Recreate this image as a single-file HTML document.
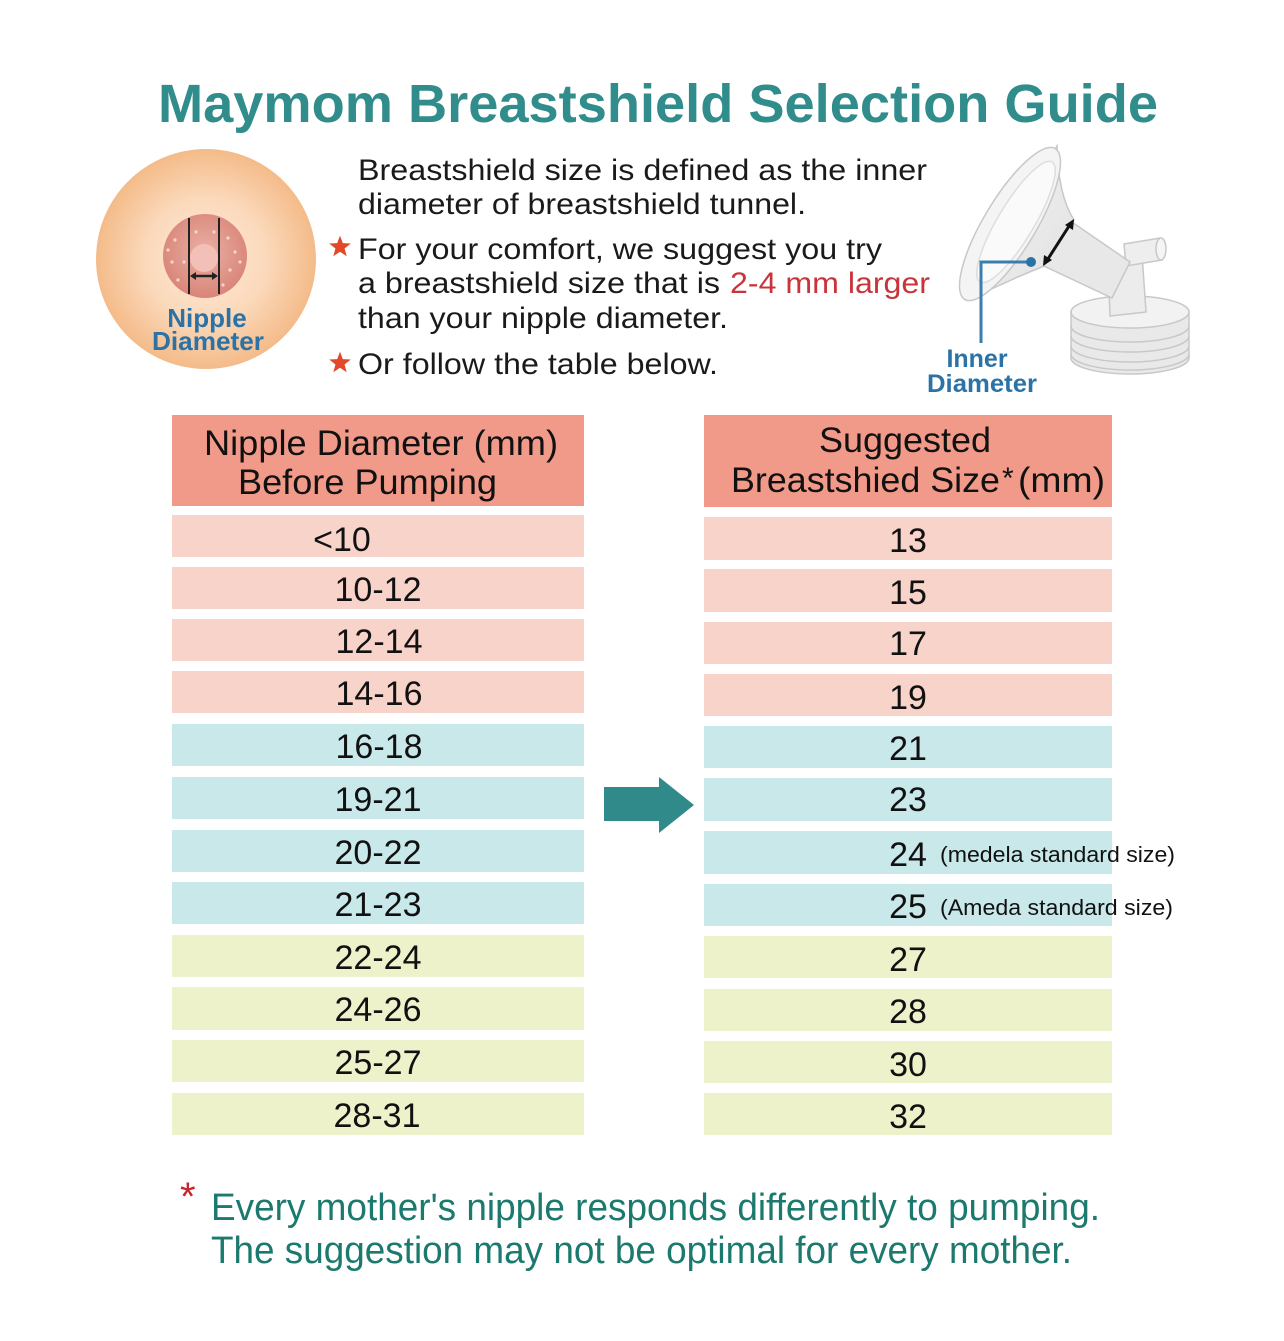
<!DOCTYPE html>
<html>
<head>
<meta charset="utf-8">
<style>
  html,body{margin:0;padding:0;background:#ffffff;}
  svg{display:block;}
  text{font-family:"Liberation Sans", Arial, sans-serif;}
</style>
</head>
<body>
<svg width="1284" height="1341" viewBox="0 0 1284 1341" xmlns="http://www.w3.org/2000/svg">
  <defs>
    <radialGradient id="peach" cx="50%" cy="50%" r="50%">
      <stop offset="0%" stop-color="#fdeadb"/>
      <stop offset="55%" stop-color="#fbd9bb"/>
      <stop offset="100%" stop-color="#f4bb89"/>
    </radialGradient>
    <radialGradient id="pink" cx="50%" cy="45%" r="55%">
      <stop offset="0%" stop-color="#eab0a5"/>
      <stop offset="100%" stop-color="#d98578"/>
    </radialGradient>
    <linearGradient id="glass" x1="0" y1="0" x2="1" y2="1">
      <stop offset="0%" stop-color="#f6f6f6"/>
      <stop offset="100%" stop-color="#e0e0e0"/>
    </linearGradient>
  </defs>

  <rect width="1284" height="1341" fill="#ffffff"/>

  <!-- Title -->
  <text x="158" y="122" font-size="54" font-weight="bold" fill="#318c8c" textLength="1000" lengthAdjust="spacingAndGlyphs">Maymom Breastshield Selection Guide</text>

  <!-- Nipple circle -->
  <circle cx="206" cy="259" r="110" fill="url(#peach)"/>
  <circle cx="205" cy="256" r="42" fill="url(#pink)"/>
  <g fill="#f6d6cf">
    <circle cx="175" cy="240" r="1.6"/><circle cx="184" cy="262" r="1.6"/><circle cx="228" cy="238" r="1.6"/>
    <circle cx="235" cy="252" r="1.6"/><circle cx="230" cy="270" r="1.6"/><circle cx="172" cy="262" r="1.6"/>
    <circle cx="196" cy="232" r="1.6"/><circle cx="214" cy="232" r="1.6"/><circle cx="240" cy="262" r="1.6"/>
    <circle cx="178" cy="280" r="1.6"/><circle cx="223" cy="285" r="1.6"/><circle cx="168" cy="250" r="1.6"/>
  </g>
  <circle cx="204" cy="258" r="14" fill="#f3c0b8"/>
  <line x1="189" y1="218" x2="189" y2="294" stroke="#222" stroke-width="2"/>
  <line x1="219" y1="218" x2="219" y2="294" stroke="#222" stroke-width="2"/>
  <line x1="193" y1="276" x2="215" y2="276" stroke="#222" stroke-width="2.5"/>
  <polygon points="190,276 196,272 196,280" fill="#222"/>
  <polygon points="218,276 212,272 212,280" fill="#222"/>
  <text x="207" y="327" font-size="26" font-weight="bold" fill="#2b72a6" text-anchor="middle">Nipple</text>
  <text x="208" y="350" font-size="26" font-weight="bold" fill="#2b72a6" text-anchor="middle" textLength="112" lengthAdjust="spacingAndGlyphs">Diameter</text>

  <!-- Text block -->
  <text x="358" y="180" font-size="30" fill="#1a1a1a" textLength="569" lengthAdjust="spacingAndGlyphs">Breastshield size is defined as the inner</text>
  <text x="358" y="214" font-size="30" fill="#1a1a1a" textLength="448" lengthAdjust="spacingAndGlyphs">diameter of breastshield tunnel.</text>
  <polygon transform="translate(340,247) scale(1.2)" points="0,-9.5 2.35,-3.24 9.03,-2.94 3.8,1.24 5.58,7.69 0,4 -5.58,7.69 -3.8,1.24 -9.03,-2.94 -2.35,-3.24" fill="#e2492a"/>
  <text x="358" y="259" font-size="30" fill="#1a1a1a" textLength="524" lengthAdjust="spacingAndGlyphs">For your comfort, we suggest you try</text>
  <text x="358" y="293" font-size="30" fill="#1a1a1a" textLength="362" lengthAdjust="spacingAndGlyphs">a breastshield size that is</text>
  <text x="730" y="293" font-size="30" fill="#c9343a" textLength="200" lengthAdjust="spacingAndGlyphs">2-4 mm larger</text>
  <text x="358" y="328" font-size="30" fill="#1a1a1a" textLength="370" lengthAdjust="spacingAndGlyphs">than your nipple diameter.</text>
  <polygon transform="translate(340,363) scale(1.2)" points="0,-9.5 2.35,-3.24 9.03,-2.94 3.8,1.24 5.58,7.69 0,4 -5.58,7.69 -3.8,1.24 -9.03,-2.94 -2.35,-3.24" fill="#e2492a"/>
  <text x="358" y="374" font-size="30" fill="#1a1a1a" textLength="360" lengthAdjust="spacingAndGlyphs">Or follow the table below.</text>

  <!-- Breastshield illustration -->
  <g stroke="#c8c8c8" stroke-width="1.5">
    <!-- base collar -->
    <path d="M1071,312 L1071,358 A59,16 0 0 0 1189,358 L1189,312 Z" fill="#e9e9e9"/>
    <ellipse cx="1130" cy="312" rx="59" ry="16" fill="#f2f2f2"/>
    <path d="M1071,326 A59,16 0 0 0 1189,326" fill="none"/>
    <path d="M1071,336 A59,16 0 0 0 1189,336" fill="none"/>
    <path d="M1071,346 A59,16 0 0 0 1189,346" fill="none"/>
    <path d="M1071,354 A59,16 0 0 0 1189,354" fill="none"/>
    <!-- valve stem -->
    <path d="M1108,262 L1142,254 L1146,312 L1110,316 Z" fill="#ececec"/>
    <!-- side port -->
    <path d="M1124,244 L1160,238 L1162,260 L1126,266 Z" fill="#eeeeee"/>
    <ellipse cx="1161" cy="249" rx="5" ry="11" fill="#f5f5f5"/>
    <!-- tube -->
    <path d="M1044,266 L1072,222 L1130,262 L1112,298 Z" fill="#e8e8e8"/>
    <!-- funnel bell -->
    <path d="M1057,146 Q1058,195 1074,220 L1044,266 Q1005,282 968,300 Z" fill="url(#glass)"/>
    <ellipse cx="1010" cy="224" rx="88" ry="26" transform="rotate(-59 1010 224)" fill="#f4f4f4"/>
    <ellipse cx="1016" cy="222" rx="70" ry="18" transform="rotate(-59 1016 222)" fill="#fafafa" stroke="#dedede"/>
  </g>
  <line x1="1046" y1="262" x2="1071" y2="223" stroke="#111" stroke-width="3"/>
  <polygon points="1043,266 1044,255 1052,260" fill="#111"/>
  <polygon points="1074,219 1073,230 1065,225" fill="#111"/>
  <polyline points="1031,262 981,262 981,343" fill="none" stroke="#3a7eb0" stroke-width="3"/>
  <circle cx="1031" cy="262" r="5" fill="#2b72a6"/>
  <text x="977" y="367" font-size="25" font-weight="bold" fill="#2b72a6" text-anchor="middle">Inner</text>
  <text x="982" y="392" font-size="25" font-weight="bold" fill="#2b72a6" text-anchor="middle" textLength="110" lengthAdjust="spacingAndGlyphs">Diameter</text>

  <!-- Left table -->
  <rect x="172" y="415" width="412" height="91" fill="#f19a89"/>
  <text x="204" y="455" font-size="35" fill="#111" textLength="354" lengthAdjust="spacingAndGlyphs">Nipple Diameter (mm)</text>
  <text x="238" y="494" font-size="35" fill="#111" textLength="259" lengthAdjust="spacingAndGlyphs">Before Pumping</text>

  <g>
    <rect x="172" y="515" width="412" height="42" fill="#f8d3c9"/>
    <rect x="172" y="567" width="412" height="42" fill="#f8d3c9"/>
    <rect x="172" y="619" width="412" height="42" fill="#f8d3c9"/>
    <rect x="172" y="671" width="412" height="42" fill="#f8d3c9"/>
    <rect x="172" y="724" width="412" height="42" fill="#c8e8ea"/>
    <rect x="172" y="777" width="412" height="42" fill="#c8e8ea"/>
    <rect x="172" y="830" width="412" height="42" fill="#c8e8ea"/>
    <rect x="172" y="882" width="412" height="42" fill="#c8e8ea"/>
    <rect x="172" y="935" width="412" height="42" fill="#eef2cb"/>
    <rect x="172" y="987" width="412" height="43" fill="#eef2cb"/>
    <rect x="172" y="1040" width="412" height="42" fill="#eef2cb"/>
    <rect x="172" y="1093" width="412" height="42" fill="#eef2cb"/>
  </g>
  <g font-size="34" fill="#111" text-anchor="middle">
    <text x="342" y="551">&lt;10</text>
    <text x="378" y="601">10-12</text>
    <text x="379" y="653">12-14</text>
    <text x="379" y="705">14-16</text>
    <text x="379" y="758">16-18</text>
    <text x="378" y="811">19-21</text>
    <text x="378" y="864">20-22</text>
    <text x="378" y="916">21-23</text>
    <text x="378" y="969">22-24</text>
    <text x="378" y="1021">24-26</text>
    <text x="378" y="1074">25-27</text>
    <text x="377" y="1127">28-31</text>
  </g>

  <!-- Arrow -->
  <polygon points="604,787 659,787 659,777 694,805 659,833 659,821 604,821" fill="#318a8a"/>

  <!-- Right table -->
  <rect x="704" y="415" width="408" height="92" fill="#f19a89"/>
  <text x="905" y="452" font-size="35" fill="#111" text-anchor="middle" textLength="172" lengthAdjust="spacingAndGlyphs">Suggested</text>
  <text x="731" y="492" font-size="35" fill="#111" textLength="269" lengthAdjust="spacingAndGlyphs">Breastshied Size</text>
  <text x="1002" y="488" font-size="30" fill="#111">*</text>
  <text x="1018" y="492" font-size="35" fill="#111" textLength="87" lengthAdjust="spacingAndGlyphs">(mm)</text>

  <g>
    <rect x="704" y="517" width="408" height="43" fill="#f8d3c9"/>
    <rect x="704" y="569" width="408" height="43" fill="#f8d3c9"/>
    <rect x="704" y="622" width="408" height="42" fill="#f8d3c9"/>
    <rect x="704" y="674" width="408" height="42" fill="#f8d3c9"/>
    <rect x="704" y="726" width="408" height="42" fill="#c8e8ea"/>
    <rect x="704" y="778" width="408" height="43" fill="#c8e8ea"/>
    <rect x="704" y="831" width="408" height="43" fill="#c8e8ea"/>
    <rect x="704" y="884" width="408" height="42" fill="#c8e8ea"/>
    <rect x="704" y="936" width="408" height="42" fill="#eef2cb"/>
    <rect x="704" y="989" width="408" height="42" fill="#eef2cb"/>
    <rect x="704" y="1041" width="408" height="42" fill="#eef2cb"/>
    <rect x="704" y="1093" width="408" height="42" fill="#eef2cb"/>
  </g>
  <g font-size="34" fill="#111" text-anchor="middle">
    <text x="908" y="552">13</text>
    <text x="908" y="604">15</text>
    <text x="908" y="655">17</text>
    <text x="908" y="709">19</text>
    <text x="908" y="760">21</text>
    <text x="908" y="811">23</text>
    <text x="908" y="866">24</text>
    <text x="908" y="918">25</text>
    <text x="908" y="971">27</text>
    <text x="908" y="1023">28</text>
    <text x="908" y="1076">30</text>
    <text x="908" y="1128">32</text>
  </g>
  <text x="940" y="862" font-size="22" fill="#111" textLength="235" lengthAdjust="spacingAndGlyphs">(medela standard size)</text>
  <text x="940" y="915" font-size="22" fill="#111" textLength="233" lengthAdjust="spacingAndGlyphs">(Ameda standard size)</text>

  <!-- Footer -->
  <text x="180" y="1210" font-size="40" fill="#c4262a">*</text>
  <text x="211" y="1220" font-size="38" fill="#1b7a6d" textLength="889" lengthAdjust="spacingAndGlyphs">Every mother's nipple responds differently to pumping.</text>
  <text x="211" y="1263" font-size="38" fill="#1b7a6d" textLength="861" lengthAdjust="spacingAndGlyphs">The suggestion may not be optimal for every mother.</text>
</svg>
</body>
</html>
